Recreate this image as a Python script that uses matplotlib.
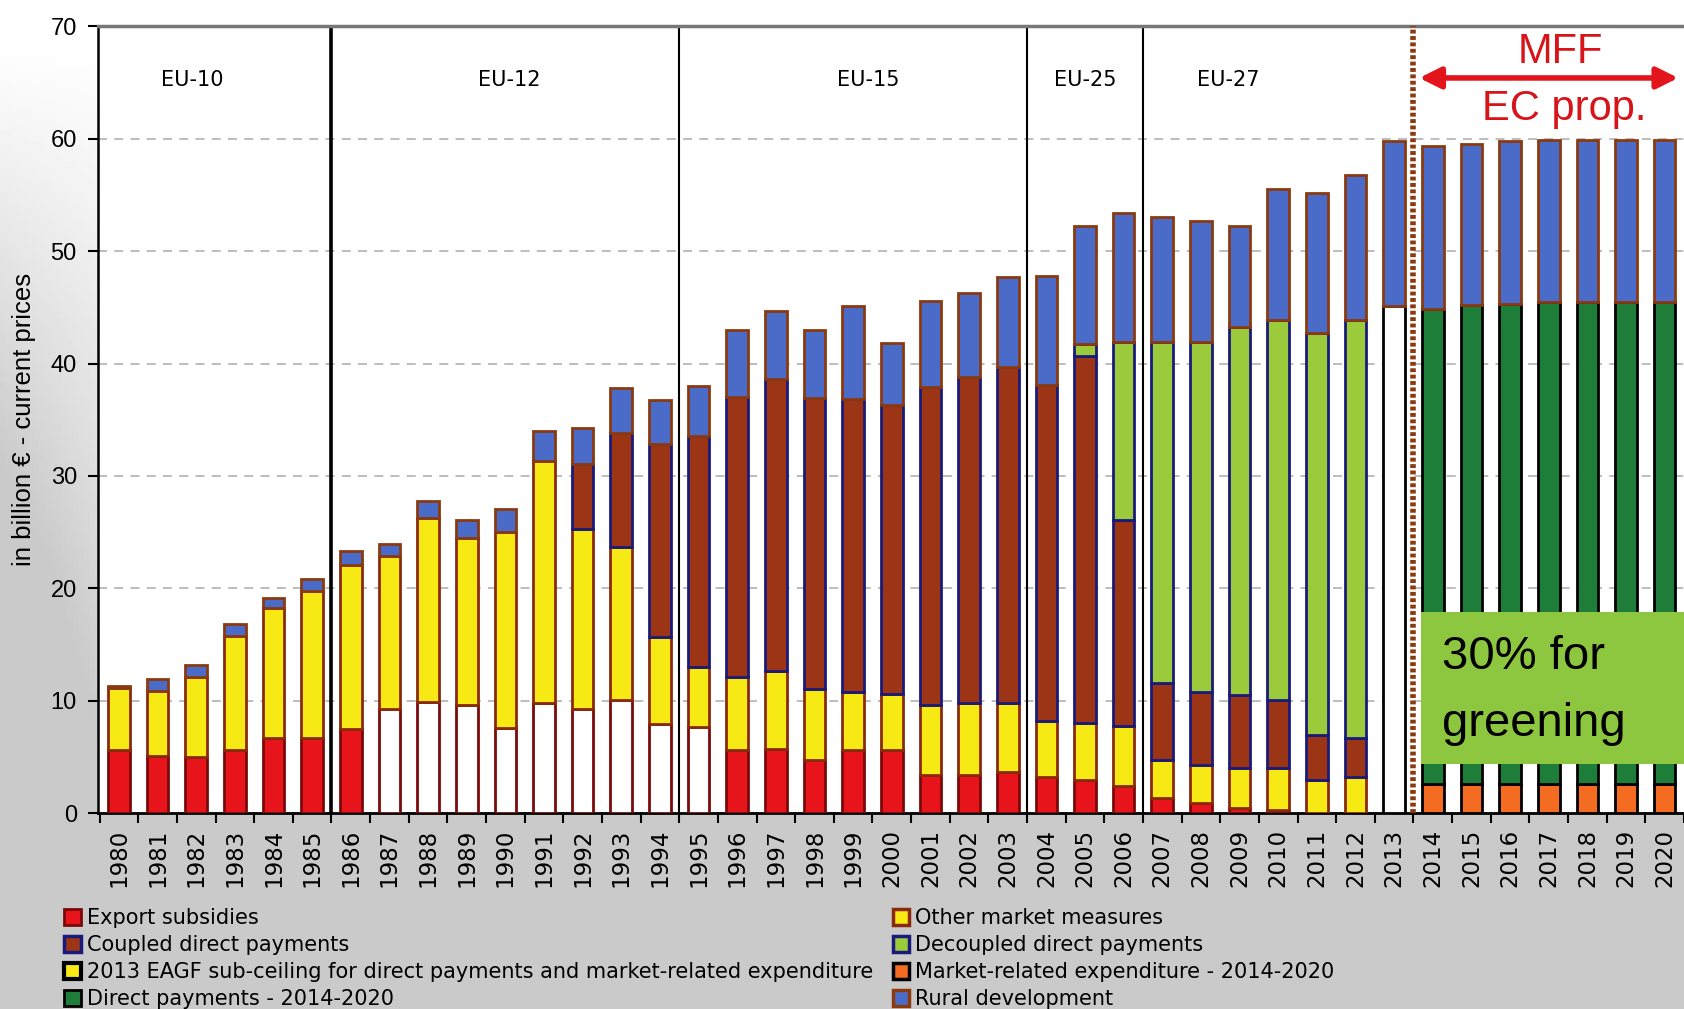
import numpy as np
import matplotlib
matplotlib.use("Agg")
import matplotlib.pyplot as plt
from matplotlib.patches import Patch, Rectangle

# Data (billion EUR, current prices)
years = list(range(1980, 2021))

export_subsidies = [5.6, 5.1, 5.0, 5.6, 6.7, 6.7, 7.5, 9.3, 9.9, 9.6,
                    7.55, 9.85, 9.25, 10.1, 7.95, 7.7, 5.6, 5.7, 4.7, 5.6,
                    5.6, 3.4, 3.4, 3.7, 3.25, 3.0, 2.4, 1.4, 0.9, 0.5,
                    0.3, 0, 0, 0, 0, 0, 0, 0, 0, 0, 0]
other_market = [5.5, 5.8, 7.15, 10.15, 11.6, 13.05, 14.6, 13.6, 16.4, 14.9,
                17.45, 21.5, 16.05, 13.6, 7.75, 5.27, 6.54, 6.96, 6.37, 5.16,
                5.01, 6.2, 6.39, 6.15, 4.95, 5.05, 5.4, 3.37, 3.37, 3.56,
                3.76, 3.0, 3.2, 0, 0, 0, 0, 0, 0, 0, 0]
coupled_dp = [0, 0, 0, 0, 0, 0, 0, 0, 0, 0,
              0, 0, 5.8, 10.15, 17.1, 20.6, 24.9, 25.95, 25.85, 26.05,
              25.7, 28.3, 29.0, 29.85, 29.9, 32.65, 18.3, 6.85, 6.5, 6.5,
              6.05, 4.0, 3.5, 0, 0, 0, 0, 0, 0, 0, 0]
decoupled_dp = [0] * 25 + [1.0, 15.8, 30.3, 31.15, 32.7, 33.8, 35.7, 37.2,
                           0, 0, 0, 0, 0, 0, 0, 0]
subceiling_2013 = [0] * 33 + [45.1] + [0] * 7
market_2014_20 = [0] * 34 + [2.6, 2.6, 2.6, 2.6, 2.6, 2.6, 2.6]
direct_2014_20 = [0] * 34 + [42.25, 42.6, 42.7, 42.9, 42.9, 42.9, 42.9]
rural_dev = [0.2, 1.05, 1.05, 1.05, 0.85, 1.1, 1.25, 1.05, 1.5, 1.6,
             2.1, 2.65, 3.15, 4.0, 3.95, 4.45, 5.95, 6.1, 6.1, 8.3,
             5.5, 7.7, 7.5, 8.0, 9.7, 10.55, 11.5, 11.15, 10.75, 9.0,
             11.65, 12.45, 12.9, 14.65, 14.5, 14.35, 14.45, 14.4, 14.4, 14.4, 14.4]

enlargements = ["EU-10", "EU-12", "EU-15", "EU-25", "EU-27"]
enlargement_pos = [1.9, 10.1, 19.4, 25.0, 28.7]
enlargement_breaks = [5.5, 14.5, 23.5, 26.5]

# Colours
RED, RED_E = "#E8141B", "#7A0A0A"
YEL, YEL_E = "#F7EA14", "#8B2A0A"
CPL, NAVY = "#9C3516", "#1A1A7A"
DEC = "#9BCB3B"
RUR, RUR_E = "#4A6CC8", "#8B3A10"
DKG = "#1F7D3A"
ORA = "#F36C21"
narrow = ["Liberation Sans Narrow", "DejaVu Sans Condensed", "DejaVu Sans"]
sans = ["Liberation Sans", "DejaVu Sans"]

fig = plt.figure(figsize=(16.84, 10.09), dpi=100)

# Background gradient
bg = fig.add_axes([0, 0, 1, 1], zorder=-10)
h, w = 200, 300
fy = np.linspace(0, 1, h)[:, None]
fx = np.linspace(0, 1, w)[None, :]
dv = np.clip((fy - 0.04) / 0.72, 0, 1)
dh = 1 + 0.7 * np.clip(1 - fx / 0.06, 0, 1)
dark = 0.21 * np.clip(dv * dh, 0, 1)
bg.imshow(1 - dark, cmap="gray", vmin=0, vmax=1, aspect="auto", extent=[0, 1, 0, 1])
bg.set_axis_off()

ax = fig.add_axes([0.058, 0.194, 0.942, 0.780])
ax.set_facecolor("white")
x = np.arange(len(years))
width = 0.56
lw = 2.0

bottom = np.zeros(len(years))
export_face = [("white" if 1987 <= y <= 1995 else RED) for y in years]
layers = [
    (export_subsidies, export_face, RED_E),
    (other_market, YEL, YEL_E),
    (coupled_dp, CPL, NAVY),
    (decoupled_dp, DEC, NAVY),
    (subceiling_2013, "white", "black"),
    (market_2014_20, ORA, "black"),
    (direct_2014_20, DKG, "black"),
    (rural_dev, RUR, RUR_E),
]
for vals, face, edge in layers:
    v = np.array(vals, dtype=float)
    m = v > 0
    fc = np.array(face)[m] if isinstance(face, list) else face
    ax.bar(x[m], v[m], width, bottom=bottom[m], color=fc, edgecolor=edge,
           linewidth=lw, zorder=3)
    bottom += v

# grid and axes
ax.set_ylim(0, 70)
ax.set_xlim(-0.55, 40.42)
ax.set_yticks(range(0, 71, 10))
ax.yaxis.grid(True, color="#B8B8B8", linestyle=(0, (5, 4)), linewidth=1.3, zorder=0)
ax.set_axisbelow(True)
ax.set_xticks(x)
ax.set_xticklabels([str(y) for y in years], rotation=90, fontsize=16.5, family=narrow)
ax.set_xticks(np.arange(-0.5, 40.6, 1), minor=True)
ax.tick_params(axis="x", which="major", length=0, pad=11)
ax.tick_params(axis="x", which="minor", length=7, width=1.5, direction="out")
ax.tick_params(axis="y", length=7, width=1.5, pad=8, labelsize=17)
for lab in ax.get_yticklabels():
    lab.set_family(sans)
ax.spines["right"].set_visible(False)
ax.spines["top"].set_color("#777777")
ax.spines["top"].set_linewidth(2.5)
ax.spines["left"].set_linewidth(1.8)
ax.spines["bottom"].set_linewidth(2)
ax.set_ylabel("in billion € - current prices", fontsize=18.5, family=sans)
ax.yaxis.set_label_coords(-0.039, 0.5)

# enlargement separators and labels
for i, b in enumerate(enlargement_breaks):
    ax.axvline(b, color="black", linewidth=2.6 if i == 0 else 1.5, zorder=2)
for name, pos in zip(enlargements, enlargement_pos):
    ax.text(pos, 65.2, name, ha="center", va="center", fontsize=15, family=narrow)

ax.axvline(33.5, color="#8B3A10", linewidth=4, linestyle=(0, (0.7, 0.45)), zorder=4)

# MFF annotation
ax.annotate("", xy=(33.65, 65.4), xytext=(40.35, 65.4),
            arrowprops=dict(arrowstyle="<|-|>", color="#E3141B", lw=4,
                            mutation_scale=32, shrinkA=0, shrinkB=0))
ax.text(37.3, 67.7, "MFF", ha="center", va="center", fontsize=30,
        color="#D7141A", family=sans)
ax.text(37.4, 62.6, "EC prop.", ha="center", va="center", fontsize=30,
        color="#D7141A", family=sans)

# greening box
ax.add_patch(Rectangle((33.7, 4.4), 7.5, 13.5, facecolor="#8DC63F",
                       edgecolor="none", zorder=5))
ax.text(34.25, 13.9, "30% for", ha="left", va="center", fontsize=34, family=sans, zorder=6)
ax.text(34.25, 7.9, "greening", ha="left", va="center", fontsize=34, family=sans, zorder=6)

# legends
left_items = [
    Patch(facecolor=RED, edgecolor=RED_E, lw=2, label="Export subsidies"),
    Patch(facecolor=CPL, edgecolor=NAVY, lw=2.5, label="Coupled direct payments"),
    Patch(facecolor=YEL, edgecolor="black", lw=3,
          label="2013 EAGF sub-ceiling for direct payments and market-related expenditure"),
    Patch(facecolor=DKG, edgecolor="black", lw=2, label="Direct payments - 2014-2020"),
]
right_items = [
    Patch(facecolor=YEL, edgecolor=YEL_E, lw=2.5, label="Other market measures"),
    Patch(facecolor=DEC, edgecolor=NAVY, lw=2.5, label="Decoupled direct payments"),
    Patch(facecolor=ORA, edgecolor="black", lw=2.5, label="Market-related expenditure - 2014-2020"),
    Patch(facecolor=RUR, edgecolor=RUR_E, lw=2.5, label="Rural development"),
]
for items, x0 in [(left_items, 0.038), (right_items, 0.530)]:
    fig.legend(handles=items, loc="upper left", bbox_to_anchor=(x0, 0.100),
               frameon=False, borderpad=0, borderaxespad=0, labelspacing=0.34,
               handlelength=0.8, handleheight=0.8, handletextpad=0.3,
               prop={"family": narrow, "size": 15})

fig.savefig("out.png", dpi=100)
